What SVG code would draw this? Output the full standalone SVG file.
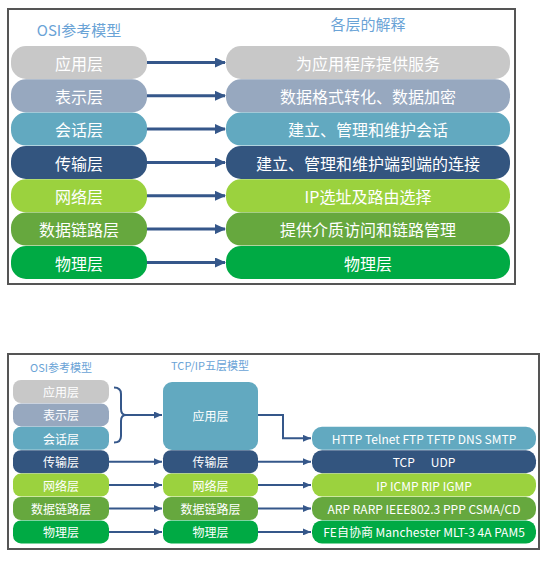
<svg xmlns="http://www.w3.org/2000/svg" width="558" height="566" viewBox="0 0 558 566">
<defs>
<marker id="ahL" markerUnits="userSpaceOnUse" markerWidth="11" markerHeight="10" refX="10" refY="5" orient="auto"><path d="M0,0 L11,5 L0,10 Z" fill="#35578A"/></marker>
<marker id="ahS" markerUnits="userSpaceOnUse" markerWidth="8" markerHeight="7" refX="8" refY="3.5" orient="auto"><path d="M0,0 L8,3.5 L0,7 Z" fill="#35578A"/></marker>
</defs>
<style>
text{font-family:"Noto Sans CJK SC","Liberation Sans",sans-serif;fill:#fff;text-anchor:middle;dominant-baseline:central}
.t1{font-size:16px}
.t2{font-size:12px}
.ttl{font-size:15px;fill:#6AA3D6}
.ttl2{font-size:11px;fill:#6AA3D6}
.frame{fill:#fff;stroke:#555;stroke-width:2}
.c1{fill:#C8C8C8}.c2{fill:#97A8BF}.c3{fill:#62A9C0}.c4{fill:#33557F}.c5{fill:#9BD23E}.c6{fill:#66A83E}.c7{fill:#00AA44}
.aL{stroke:#35578A;stroke-width:3;fill:none;marker-end:url(#ahL)}
.aS{stroke:#35578A;stroke-width:2;fill:none;marker-end:url(#ahS)}
</style>
<rect width="558" height="566" fill="#fff"/>
<!-- top panel -->
<rect class="frame" x="8" y="9" width="507" height="275"/>
<text class="ttl" x="79" y="29">OSI参考模型</text>
<text class="ttl" x="368" y="23">各层的解释</text>
<g id="osi-left">
<g id="l1"><rect class="c1" x="11" y="46" width="136" height="33" rx="15"/><text class="t1" x="79" y="62.5">应用层</text></g>
<g id="l2"><rect class="c2" x="11" y="79.3" width="136" height="33" rx="15"/><text class="t1" x="79" y="95.8">表示层</text></g>
<g id="l3"><rect class="c3" x="11" y="112.6" width="136" height="33" rx="15"/><text class="t1" x="79" y="129.1">会话层</text></g>
<g id="l4"><rect class="c4" x="11" y="146" width="136" height="33" rx="15"/><text class="t1" x="79" y="162.5">传输层</text></g>
<g id="l5"><rect class="c5" x="11" y="179.3" width="136" height="33" rx="15"/><text class="t1" x="79" y="195.8">网络层</text></g>
<g id="l6"><rect class="c6" x="11" y="212.6" width="136" height="33" rx="15"/><text class="t1" x="79" y="229.1">数据链路层</text></g>
<g id="l7"><rect class="c7" x="11" y="246" width="136" height="33" rx="15"/><text class="t1" x="79" y="262.5">物理层</text></g>
</g>
<g id="osi-right">
<g id="r1"><rect class="c1" x="226" y="46" width="284" height="33" rx="15"/><text class="t1" x="368" y="62.5">为应用程序提供服务</text></g>
<g id="r2"><rect class="c2" x="226" y="79.3" width="284" height="33" rx="15"/><text class="t1" x="368" y="95.8">数据格式转化、数据加密</text></g>
<g id="r3"><rect class="c3" x="226" y="112.6" width="284" height="33" rx="15"/><text class="t1" x="368" y="129.1">建立、管理和维护会话</text></g>
<g id="r4"><rect class="c4" x="226" y="146" width="284" height="33" rx="15"/><text class="t1" x="368" y="162.5">建立、管理和维护端到端的连接</text></g>
<g id="r5"><rect class="c5" x="226" y="179.3" width="284" height="33" rx="15"/><text class="t1" x="368" y="195.8">IP选址及路由选择</text></g>
<g id="r6"><rect class="c6" x="226" y="212.6" width="284" height="33" rx="15"/><text class="t1" x="368" y="229.1">提供介质访问和链路管理</text></g>
<g id="r7"><rect class="c7" x="226" y="246" width="284" height="33" rx="15"/><text class="t1" x="368" y="262.5">物理层</text></g>
</g>
<g id="top-connectors">
<line class="aL" x1="147" y1="62.5" x2="225" y2="62.5"/>
<line class="aL" x1="147" y1="95.8" x2="225" y2="95.8"/>
<line class="aL" x1="147" y1="129.1" x2="225" y2="129.1"/>
<line class="aL" x1="147" y1="162.5" x2="225" y2="162.5"/>
<line class="aL" x1="147" y1="195.8" x2="225" y2="195.8"/>
<line class="aL" x1="147" y1="229.1" x2="225" y2="229.1"/>
<line class="aL" x1="147" y1="262.5" x2="225" y2="262.5"/>
</g>
<!-- bottom panel -->
<rect class="frame" x="8" y="354" width="531" height="195"/>
<text class="ttl2" x="61" y="367">OSI参考模型</text>
<text class="ttl2" x="210" y="365">TCP/IP五层模型</text>
<g id="b-osi">
<g id="bl1"><rect class="c1" x="13" y="380" width="96" height="23" rx="8"/><text class="t2" x="61" y="391.5">应用层</text></g>
<g id="bl2"><rect class="c2" x="13" y="403.4" width="96" height="23" rx="8"/><text class="t2" x="61" y="414.9">表示层</text></g>
<g id="bl3"><rect class="c3" x="13" y="426.8" width="96" height="23" rx="8"/><text class="t2" x="61" y="438.3">会话层</text></g>
<g id="bl4"><rect class="c4" x="13" y="450.2" width="96" height="23" rx="8"/><text class="t2" x="61" y="461.7">传输层</text></g>
<g id="bl5"><rect class="c5" x="13" y="473.6" width="96" height="23" rx="8"/><text class="t2" x="61" y="485.1">网络层</text></g>
<g id="bl6"><rect class="c6" x="13" y="497" width="96" height="23" rx="8"/><text class="t2" x="61" y="508.5">数据链路层</text></g>
<g id="bl7"><rect class="c7" x="13" y="520.4" width="96" height="23" rx="8"/><text class="t2" x="61" y="531.9">物理层</text></g>
</g>
<g id="b-tcpip">
<g id="bm1"><rect class="c3" x="163" y="382" width="95" height="68" rx="9"/><text class="t2" x="210.5" y="415">应用层</text></g>
<g id="bm4"><rect class="c4" x="163" y="450.2" width="95" height="23" rx="8"/><text class="t2" x="210.5" y="461.7">传输层</text></g>
<g id="bm5"><rect class="c5" x="163" y="473.6" width="95" height="23" rx="8"/><text class="t2" x="210.5" y="485.1">网络层</text></g>
<g id="bm6"><rect class="c6" x="163" y="497" width="95" height="23" rx="8"/><text class="t2" x="210.5" y="508.5">数据链路层</text></g>
<g id="bm7"><rect class="c7" x="163" y="520.4" width="95" height="23" rx="8"/><text class="t2" x="210.5" y="531.9">物理层</text></g>
</g>
<g id="b-protocols">
<g id="bp3"><rect class="c3" x="312" y="426.8" width="224" height="23" rx="10"/><text class="t2" x="424" y="438.3">HTTP Telnet FTP TFTP DNS SMTP</text></g>
<g id="bp4"><rect class="c4" x="312" y="450.2" width="224" height="23" rx="10"/><text class="t2" x="424" y="461.7" xml:space="preserve">TCP      UDP</text></g>
<g id="bp5"><rect class="c5" x="312" y="473.6" width="224" height="23" rx="10"/><text class="t2" x="424" y="485.1">IP ICMP RIP IGMP</text></g>
<g id="bp6"><rect class="c6" x="312" y="497" width="224" height="23" rx="10"/><text class="t2" x="424" y="508.5">ARP RARP IEEE802.3 PPP CSMA/CD</text></g>
<g id="bp7"><rect class="c7" x="312" y="520.4" width="224" height="23" rx="10"/><text class="t2" x="424" y="531.9">FE自协商 Manchester MLT-3 4A PAM5</text></g>
</g>
<g id="bottom-connectors">
<path d="M114,387.5 Q121,387.5 121,394 L121,409 Q121,415 126,415 Q121,415 121,421 L121,436 Q121,442.5 114,442.5" stroke="#35578A" stroke-width="2" fill="none"/>
<line class="aS" x1="126" y1="415" x2="162" y2="415"/>
<line class="aS" x1="109" y1="461.7" x2="162" y2="461.7"/>
<line class="aS" x1="109" y1="485.1" x2="162" y2="485.1"/>
<line class="aS" x1="109" y1="508.5" x2="162" y2="508.5"/>
<line class="aS" x1="109" y1="531.9" x2="162" y2="531.9"/>
<path class="aS" d="M258,415 L283,415 L283,438.3 L311,438.3"/>
<line class="aS" x1="258" y1="461.7" x2="311" y2="461.7"/>
<line class="aS" x1="258" y1="485.1" x2="311" y2="485.1"/>
<line class="aS" x1="258" y1="508.5" x2="311" y2="508.5"/>
<line class="aS" x1="258" y1="531.9" x2="311" y2="531.9"/>
</g>
</svg>
